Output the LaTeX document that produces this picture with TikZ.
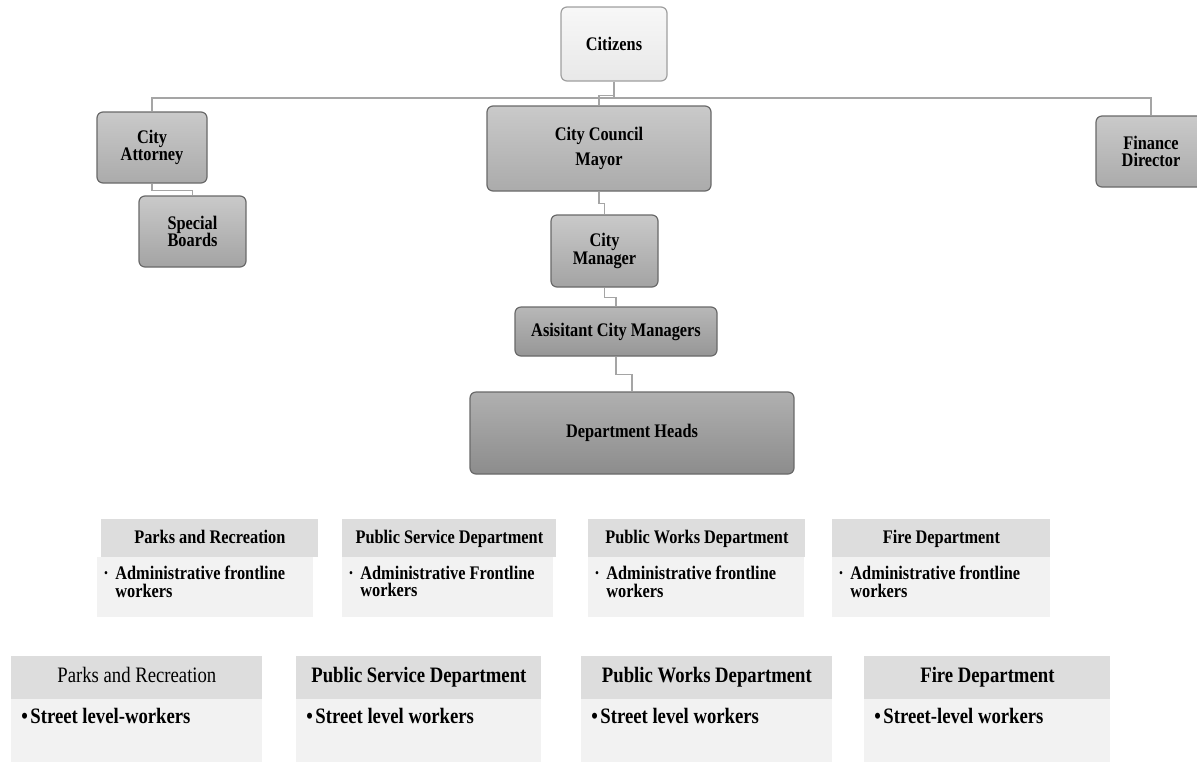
\documentclass[tikz,border=0pt]{standalone}
\usepackage{fontspec}
\setmainfont[FakeStretch=0.85]{Liberation Serif}
\definecolor{linkgray}{RGB}{165, 165, 165}
\definecolor{boxedge}{RGB}{105, 105, 105}
\definecolor{headgray}{RGB}{221, 221, 221}
\definecolor{bodygray}{RGB}{242, 242, 242}

\tikzset{
  link/.style={draw=linkgray, line width=0.8pt},
  chartbox/.style={rounded corners=3pt, draw=boxedge, line width=0.6pt,
    top color=gray!42, bottom color=gray!66, align=center, inner sep=1pt,
    font=\fontsize{9.6}{8.8}\selectfont\bfseries},
  citbox/.style={chartbox, draw=gray!75, top color=gray!6, bottom color=gray!18},
  unithead/.style={fill=headgray, inner sep=0pt, anchor=north west,
    text height=0.68em, text depth=0.22em},
  unitbody/.style={fill=bodygray, inner sep=0pt, anchor=north west},
  unittext/.style={inner sep=0pt, anchor=north west, align=left}
}

\begin{document}
\begin{tikzpicture}[x=0.5pt, y=-0.5pt]
  \useasboundingbox (0,0) rectangle (1197,761);
  \clip (0,0) rectangle (1197,761);

  % Chain of command
  \node[citbox, minimum width=53pt, minimum height=37pt] (cit) at (614,44) {Citizens};
  \node[chartbox, minimum width=112pt, minimum height=42.5pt] (council) at (599,148.5) {City Council\\[3.5pt]Mayor};
  \node[chartbox, minimum width=55pt, minimum height=35.5pt] (att) at (152,147.5) {City\\Attorney};
  \node[chartbox, minimum width=53.5pt, minimum height=35.5pt, bottom color=gray!72] (boards) at (192.5,231.5) {Special\\Boards};
  \node[chartbox, minimum width=55pt, minimum height=35.5pt] (fin) at (1151,151.5) {Finance\\Director};
  \node[chartbox, minimum width=53.5pt, minimum height=36pt, bottom color=gray!72] (mgr) at (604.5,251) {City\\Manager};
  \node[chartbox, minimum width=101pt, minimum height=24.5pt, top color=gray!56, bottom color=gray!82] (asst) at (616,331.5) {Asisitant City Managers};
  \node[chartbox, minimum width=162pt, minimum height=41pt, top color=gray!62, bottom color=gray!90] (heads) at (632,433) {Department Heads};

  % Connectors
  \draw[link] (cit.south) -- ++(0,16.5) -| (att.north);
  \draw[link] (cit.south) -- ++(0,16.5) -| (fin.north);
  \draw[link] (cit.south) -- ++(0,14) -| (council.north);
  \draw[link] (att.south) -- ++(0,7) -| (boards.north);
  \draw[link] (council.south) -- ++(0,12) -| (mgr.north);
  \draw[link] (mgr.south) -- ++(0,10) -| (asst.north);
  \draw[link] (asst.south) -- ++(0,18) -| (heads.north);

  % Administrative frontline workers
  \foreach \hx/\hw/\bx/\bw/\lbl/\txt [count=\i] in {
      101/108.5/97/108/Parks and Recreation/Administrative frontline,
      342/107/342/105.5/Public Service Department/Administrative Frontline,
      588/108.5/588/108/Public Works Department/Administrative frontline,
      832/109/832/109/Fire Department/Administrative frontline} {
    \node[unithead, minimum width=\hw pt, minimum height=19pt, font=\fontsize{9.6}{10}\selectfont\bfseries] (admh\i) at (\hx,519) {\lbl};
    \node[unitbody, minimum width=\bw pt, minimum height=30pt] (admb\i) at (\bx,557) {};
    \node[unittext, font=\fontsize{9.6}{8.8}\selectfont\bfseries] (admt\i) at ([xshift=3pt, yshift=-4.3pt]admb\i.north west)
      {\makebox[6pt][l]{·}\txt\\\hspace*{6pt}workers};
  }

  % Street level workers
  \foreach \hx/\hw/\lbl/\txt [count=\i] in {
      11/125.5/{\mdseries Parks and Recreation}/Street level-workers,
      296/122.5/Public Service Department/Street level workers,
      581/125.5/Public Works Department/Street level workers,
      864/123/Fire Department/Street-level workers} {
    \node[unithead, minimum width=\hw pt, minimum height=21.5pt, font=\fontsize{11}{12}\selectfont\bfseries] (strh\i) at (\hx,656) {\lbl};
    \node[unitbody, minimum width=\hw pt, minimum height=34pt] (strb\i) at (\hx,699) {};
    \node[unittext, font=\fontsize{11}{12}\selectfont\bfseries] (strt\i) at ([xshift=5pt, yshift=-4.6pt]strb\i.north west)
      {\makebox[4.5pt][l]{•}\txt};
  }
\end{tikzpicture}
\end{document}
